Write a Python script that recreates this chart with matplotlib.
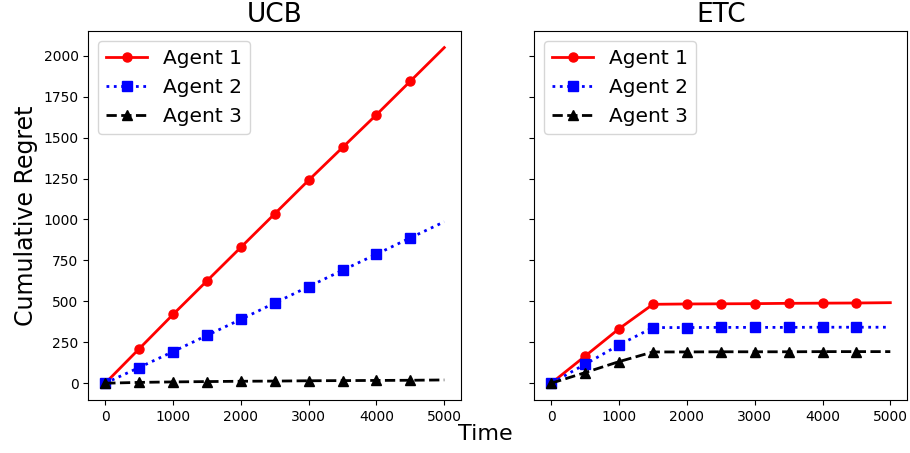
import matplotlib
matplotlib.use("Agg")
import matplotlib.pyplot as plt

# time steps where the regret was recorded
time_steps = [0, 500, 1000, 1500, 2000, 2500, 3000, 3500, 4000, 4500, 5000]

# cumulative regret under UCB
ucb_agent1 = [0, 210, 420, 625, 830, 1035, 1240, 1440, 1640, 1845, 2050]
ucb_agent2 = [0, 96, 193, 292, 390, 490, 590, 690, 788, 888, 986]
ucb_agent3 = [0, 5, 8, 10, 12, 13, 15, 16, 17, 18, 20]

# cumulative regret under explore-then-commit
etc_agent1 = [0, 166, 333, 482, 484, 485, 486, 488, 489, 490, 492]
etc_agent2 = [0, 116, 234, 340, 340, 341, 341, 341, 342, 342, 342]
etc_agent3 = [0, 65, 132, 191, 191, 192, 192, 192, 193, 193, 193]

agent_labels = ["Agent 1", "Agent 2", "Agent 3"]
styles = [("r", "-", "o"), ("b", ":", "s"), ("k", "--", "^")]

fig, axes = plt.subplots(1, 2, figsize=(9.1, 4.53), dpi=100, sharey=True)
fig.subplots_adjust(left=0.097, right=0.997, top=0.932, bottom=0.117, wspace=0.196)

panels = [
    ("UCB", [ucb_agent1, ucb_agent2, ucb_agent3]),
    ("ETC", [etc_agent1, etc_agent2, etc_agent3]),
]

for ax, (title, series) in zip(axes, panels):
    for values, label, (color, ls, marker) in zip(series, agent_labels, styles):
        # markers on every point except the final one
        ax.plot(time_steps, values, color=color, linestyle=ls, marker=marker,
                markevery=list(range(len(time_steps) - 1)),
                markersize=6.5, linewidth=2, label=label)
    ax.set_title(title, fontsize=19)
    ax.set_xticks([0, 1000, 2000, 3000, 4000, 5000])
    ax.legend(loc="upper left", fontsize=14.5)

axes[0].set_yticks(range(0, 2001, 250))
axes[0].set_ylabel("Cumulative Regret", fontsize=17)
fig.text(0.533, 0.02, "Time", fontsize=16, ha="center", va="bottom")

plt.savefig("out.png", dpi=100)
